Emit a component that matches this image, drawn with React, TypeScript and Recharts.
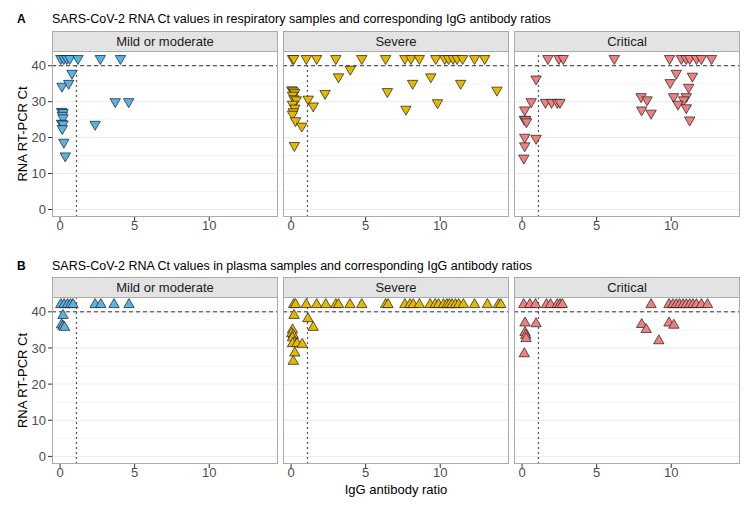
import React from 'react';
import { ScatterChart, Scatter, XAxis, YAxis, ReferenceLine } from 'recharts';

const FONT = '"Liberation Sans", Arial, Helvetica, sans-serif';

// ---------- labels & constants ----------
const severityLabels = ['Mild or moderate', 'Severe', 'Critical'];
const severityColors = ['#56B4E9', '#E7B800', '#F08080'];
const rowTitles = [
  'SARS-CoV-2 RNA Ct values in respiratory samples and corresponding IgG antibody ratios',
  'SARS-CoV-2 RNA Ct values in plasma samples and corresponding IgG antibody ratios',
];
const rowLetters = ['A', 'B'];
const xTitle = 'IgG antibody ratio';
const yTitle = 'RNA RT-PCR Ct';
const xTicks = [0, 5, 10];
const yTicks = [0, 10, 20, 30, 40];
const yMinor = [5, 15, 25, 35];
const xDomain: [number, number] = [-0.54, 14.61];
const yDomain: [number, number] = [-2.1, 44.1];
const ctCutoff = 40;
const ratioCutoff = 1.1;

// ---------- data: [IgG ratio, Ct] ----------
const respMild = [
  [0.05, 42], [0.25, 42], [0.45, 42], [0.65, 42], [1.2, 42], [2.7, 42], [4.05, 42],
  [0.8, 37.9], [0.13, 34.3], [0.58, 35.1],
  [3.7, 30], [4.6, 30],
  [0.1, 27.3], [0.2, 27], [0.15, 26.2], [0.2, 25.5],
  [0.1, 24], [0.2, 23.8], [0.15, 22.5],
  [2.35, 23.7], [0.25, 18.7], [0.35, 14.9],
];
const respSevere = [
  [0.1, 42], [0.18, 42], [1.02, 42], [1.72, 42], [3.0, 42], [4.74, 42], [6.34, 42], [7.63, 42],
  [8.04, 42], [8.6, 42], [9.7, 42], [10.3, 42], [10.56, 42], [10.86, 42], [11.13, 42],
  [11.5, 42], [12.3, 42], [12.98, 42],
  [3.97, 39], [3.18, 36.9], [9.37, 36.9], [8.15, 35.1], [11.37, 35.1], [6.46, 32.8],
  [13.8, 33.2], [2.28, 32.3], [9.82, 29.7], [7.7, 27.9], [1.15, 30.7], [1.49, 28.8],
  [0.05, 33.3], [0.15, 33], [0.25, 32.5], [0.1, 31.8], [0.2, 30.8], [0.35, 30.5],
  [0.1, 29.3], [0.25, 28.2], [0.15, 27.2], [0.1, 26.5], [0.3, 24.7], [0.72, 23.2], [0.22, 17.8],
];
const respCritical = [
  [1.73, 42], [2.47, 42], [2.76, 42], [6.18, 42], [9.89, 42], [10.68, 42], [11.0, 42],
  [11.24, 42], [11.69, 42], [12.02, 42], [12.7, 42],
  [0.94, 36.3], [10.34, 37.9], [11.42, 37.1], [9.93, 35.3], [11.17, 34], [10.16, 31.4],
  [11.01, 31.4], [10.83, 30.5], [10.45, 29.3], [11.01, 28.3], [11.24, 24.9],
  [7.98, 31.4], [8.38, 30.5], [8.02, 27.7], [8.65, 26.8],
  [0.61, 30], [1.57, 29.8], [1.98, 29.8], [2.36, 29.8], [2.54, 29.8],
  [0.18, 27.7], [0.15, 25.1], [0.25, 25], [0.3, 24.4],
  [0.18, 20.1], [0.94, 19.8], [0.18, 17.7], [0.12, 14.3],
];
const plasmaMild = [
  [0.05, 42], [0.27, 42], [0.5, 42], [0.7, 42], [0.87, 42], [2.35, 42], [2.73, 42],
  [3.62, 42], [4.62, 42],
  [0.2, 39], [0.1, 36.4], [0.2, 36], [0.3, 35.7],
];
const plasmaSevere = [
  [0.18, 42], [0.3, 42], [1.02, 42], [1.72, 42], [2.33, 42], [3.0, 42], [3.18, 42],
  [3.95, 42], [4.74, 42], [6.34, 42], [6.5, 42], [7.63, 42], [7.97, 42], [8.19, 42],
  [8.6, 42], [9.32, 42], [9.66, 42], [9.89, 42], [10.22, 42], [10.45, 42], [10.61, 42],
  [10.79, 42], [11.02, 42], [11.24, 42], [11.55, 42], [12.3, 42], [13.16, 42],
  [13.9, 42], [14.06, 42],
  [0.2, 39], [1.13, 38.1], [1.48, 35.7], [0.1, 35], [0.05, 34], [0.15, 33.5],
  [0.1, 32.8], [0.2, 31.5], [0.1, 31.2], [0.4, 31.2], [0.75, 31], [0.25, 28.6], [0.15, 26.3],
];
const plasmaCritical = [
  [0.11, 42], [0.52, 42], [0.9, 42], [1.64, 42], [1.91, 42], [2.36, 42], [2.54, 42],
  [2.7, 42], [8.65, 42], [9.85, 42], [10.11, 42], [10.34, 42], [10.56, 42], [10.79, 42],
  [11.01, 42], [11.24, 42], [11.46, 42], [11.69, 42], [12.02, 42], [12.43, 42],
  [0.2, 36.9], [0.94, 36.7], [0.2, 34.3], [0.25, 33.5], [0.27, 32.6], [0.15, 28.4],
  [8.02, 36.5], [8.32, 35.1], [9.17, 32], [9.85, 36.9], [10.18, 36.3],
];

const rowsData = [
  [respMild, respSevere, respCritical],
  [plasmaMild, plasmaSevere, plasmaCritical],
];

// ---------- layout ----------
const W = 754;
const H = 507;
const colLefts = [52, 283, 514];
const panelW = 226;
const Y_AXIS_W = 40;
const X_AXIS_H = 24;
const rows = [
  { stripTop: 31, plotTop: 51, plotH: 166, titleBase: 23 },
  { stripTop: 277, plotTop: 297, plotH: 167, titleBase: 269.5 },
];
const STRIP_H = 20;
const BORDER = '#ABABAB';
const STRIP_FILL = '#E3E3E3';

const toPoints = (a: number[][]) => a.map(([ratio, ct]) => ({ ratio, ct }));

const makeTriangle = (fill: string, down: boolean) => (props: any) => {
  const { cx, cy } = props;
  if (cx == null || cy == null) return <g />;
  const r = 6;
  const hw = r * 0.866;
  const pts = down
    ? `${cx - hw},${cy - r / 2} ${cx + hw},${cy - r / 2} ${cx},${cy + r}`
    : `${cx - hw},${cy + r / 2} ${cx + hw},${cy + r / 2} ${cx},${cy - r}`;
  return <polygon points={pts} fill={fill} stroke="#1a1a1a" strokeWidth={0.7} strokeLinejoin="miter" />;
};

const tickStyle = { fill: '#4D4D4D', fontSize: 13, fontFamily: FONT };

function Panel({ row, col }: { row: number; col: number }) {
  const r = rows[row];
  const data = toPoints(rowsData[row][col]);
  const first = col === 0;
  return (
    <div style={{ position: 'absolute', left: colLefts[col] - Y_AXIS_W, top: r.plotTop }}>
      <ScatterChart
        width={Y_AXIS_W + panelW}
        height={r.plotH + X_AXIS_H}
        margin={{ top: 0, right: 0, bottom: 0, left: 0 }}
      >
        <XAxis
          type="number"
          dataKey="ratio"
          domain={xDomain}
          ticks={xTicks}
          allowDataOverflow
          height={X_AXIS_H}
          axisLine={false}
          tickLine={{ stroke: '#333333' }}
          tickSize={4}
          tickMargin={0}
          tick={tickStyle}
          interval={0}
        />
        <YAxis
          type="number"
          dataKey="ct"
          domain={yDomain}
          ticks={yTicks}
          allowDataOverflow
          width={Y_AXIS_W}
          axisLine={false}
          tickLine={first ? { stroke: '#333333' } : false}
          tickSize={4}
          tickMargin={2}
          tick={first ? tickStyle : false}
          interval={0}
        />
        {yMinor.map((v) => (
          <ReferenceLine key={'m' + v} y={v} stroke="#F5F5F5" strokeWidth={1} />
        ))}
        {yTicks.map((v) => (
          <ReferenceLine key={'g' + v} y={v} stroke="#EBEBEB" strokeWidth={1} />
        ))}
        <ReferenceLine y={ctCutoff} stroke="#333333" strokeDasharray="4 3" strokeWidth={1} />
        <ReferenceLine x={ratioCutoff} stroke="#555555" strokeDasharray="2 3" strokeWidth={1.2} />
        <Scatter
          data={data}
          isAnimationActive={false}
          shape={makeTriangle(severityColors[col], row === 0)}
        />
      </ScatterChart>
    </div>
  );
}

export default function App() {
  return (
    <div
      style={{
        position: 'absolute',
        left: 0,
        top: 0,
        width: W,
        height: H,
        background: '#ffffff',
        fontFamily: FONT,
        overflow: 'hidden',
      }}
    >
      {rows.map((_, ri) => colLefts.map((_, ci) => <Panel key={`${ri}-${ci}`} row={ri} col={ci} />))}
      <svg
        width={W}
        height={H}
        style={{ position: 'absolute', left: 0, top: 0, pointerEvents: 'none' }}
      >
        {rows.map((r, ri) => (
          <g key={'row' + ri}>
            <text x={17} y={r.titleBase} fontSize={12} fontWeight="bold" fill="#000" fontFamily={FONT}>
              {rowLetters[ri]}
            </text>
            <text x={52} y={r.titleBase} fontSize={12.5} fill="#000" fontFamily={FONT}>
              {rowTitles[ri]}
            </text>
            <text
              transform={`translate(27, ${r.plotTop + r.plotH / 2}) rotate(-90)`}
              textAnchor="middle"
              fontSize={13}
              fill="#000"
              fontFamily={FONT}
            >
              {yTitle}
            </text>
            {colLefts.map((cl, ci) => (
              <g key={'p' + ci}>
                <rect
                  x={cl + 0.5}
                  y={r.stripTop + 0.5}
                  width={panelW - 1}
                  height={STRIP_H}
                  fill={STRIP_FILL}
                  stroke={BORDER}
                  strokeWidth={1}
                />
                <text
                  x={cl + panelW / 2}
                  y={r.stripTop + 14.5}
                  textAnchor="middle"
                  fontSize={13}
                  fill="#1A1A1A"
                  fontFamily={FONT}
                >
                  {severityLabels[ci]}
                </text>
                <rect
                  x={cl + 0.5}
                  y={r.plotTop + 0.5}
                  width={panelW - 1}
                  height={r.plotH - 1}
                  fill="none"
                  stroke={BORDER}
                  strokeWidth={1}
                />
              </g>
            ))}
          </g>
        ))}
        <text
          x={colLefts[1] + panelW / 2}
          y={494}
          textAnchor="middle"
          fontSize={13}
          fill="#000"
          fontFamily={FONT}
        >
          {xTitle}
        </text>
      </svg>
    </div>
  );
}
